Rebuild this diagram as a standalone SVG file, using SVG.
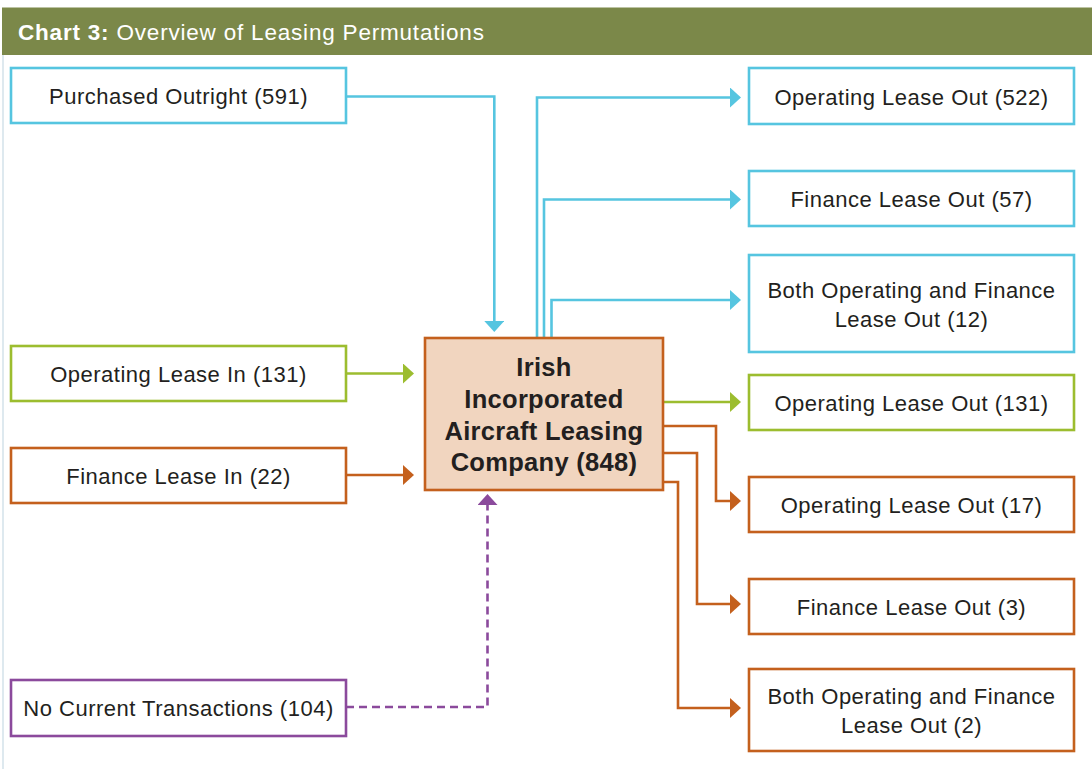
<svg xmlns="http://www.w3.org/2000/svg" width="1092" height="769" viewBox="0 0 1092 769">
<style>
text{font-family:"Liberation Sans",Arial,Helvetica,sans-serif;fill:#231f20;font-size:22px;text-anchor:middle;letter-spacing:0.5px}
.box{fill:#ffffff;stroke-width:2.6}
.cy{stroke:#56c5e0}
.gr{stroke:#9cbd2f}
.or{stroke:#c4601d}
.pu{stroke:#8b4a9c}
.c{fill:none;stroke-width:2.6}
.ttl{font-size:22.5px;fill:#ffffff;text-anchor:start;letter-spacing:0.8px}
.big{font-size:25.5px;font-weight:bold;letter-spacing:0.3px}
</style>
<defs>
<marker id="aCy" markerUnits="userSpaceOnUse" viewBox="0 0 11 20" markerWidth="11" markerHeight="20" refX="1" refY="10" orient="auto"><path d="M0,0 L11,10 L0,20 Z" fill="#56c5e0"/></marker>
<marker id="aGr" markerUnits="userSpaceOnUse" viewBox="0 0 11 20" markerWidth="11" markerHeight="20" refX="1" refY="10" orient="auto"><path d="M0,0 L11,10 L0,20 Z" fill="#9cbd2f"/></marker>
<marker id="aOr" markerUnits="userSpaceOnUse" viewBox="0 0 11 20" markerWidth="11" markerHeight="20" refX="1" refY="10" orient="auto"><path d="M0,0 L11,10 L0,20 Z" fill="#c4601d"/></marker>
<marker id="aPu" markerUnits="userSpaceOnUse" viewBox="0 0 11 20" markerWidth="11" markerHeight="20" refX="1" refY="10" orient="auto"><path d="M0,0 L11,10 L0,20 Z" fill="#8b4a9c"/></marker>
</defs>
<rect width="1092" height="769" fill="#ffffff"/>
<g id="header">
<rect x="2" y="7.5" width="1090" height="47.5" fill="#7b8849"/>
<line x1="3" y1="55" x2="3" y2="769" stroke="#d3e2ea" stroke-width="1.5"/>
<text x="18" y="39.5" class="ttl"><tspan font-weight="bold">Chart 3:</tspan> Overview of Leasing Permutations</text>
</g>
<g id="connectors">
<path class="c cy" d="M346,96.5 H494.3 V322" marker-end="url(#aCy)"/>
<path class="c cy" d="M537,338 V97.5 H731" marker-end="url(#aCy)"/>
<path class="c cy" d="M544,338 V199.5 H731" marker-end="url(#aCy)"/>
<path class="c cy" d="M551.5,338 V300 H731" marker-end="url(#aCy)"/>
<path class="c gr" d="M346,373.5 H404" marker-end="url(#aGr)"/>
<path class="c or" d="M346,475 H404" marker-end="url(#aOr)"/>
<path class="c gr" d="M663,402 H731" marker-end="url(#aGr)"/>
<path class="c or" d="M663,426 H716 V501 H731" marker-end="url(#aOr)"/>
<path class="c or" d="M663,453 H697 V604 H731" marker-end="url(#aOr)"/>
<path class="c or" d="M663,482 H678 V708 H731" marker-end="url(#aOr)"/>
<path class="c pu" d="M346,707 H487.5 V504" stroke-dasharray="8 5" marker-end="url(#aPu)"/>
</g>
<g id="purchased-outright">
<rect class="box cy" x="11" y="68" width="335" height="55"/>
<text x="178.5" y="104">Purchased Outright (591)</text>
</g>
<g id="operating-lease-in">
<rect class="box gr" x="11" y="346" width="335" height="55"/>
<text x="178.5" y="382">Operating Lease In (131)</text>
</g>
<g id="finance-lease-in">
<rect class="box or" x="11" y="448" width="335" height="55"/>
<text x="178.5" y="484">Finance Lease In (22)</text>
</g>
<g id="no-current-transactions">
<rect class="box pu" x="11" y="680" width="335" height="56"/>
<text x="178.5" y="716">No Current Transactions (104)</text>
</g>
<g id="center">
<rect x="425" y="338" width="238" height="152" fill="#f1d5bf" stroke="#c4601d" stroke-width="2.6"/>
<text class="big" x="544" y="376">Irish</text>
<text class="big" x="544" y="408">Incorporated</text>
<text class="big" x="544" y="439.5">Aircraft Leasing</text>
<text class="big" x="544" y="471">Company (848)</text>
</g>
<g id="op-lease-out-522">
<rect class="box cy" x="749" y="68" width="325" height="56"/>
<text x="911.5" y="104.5">Operating Lease Out (522)</text>
</g>
<g id="fin-lease-out-57">
<rect class="box cy" x="749" y="171" width="325" height="55"/>
<text x="911.5" y="206.5">Finance Lease Out (57)</text>
</g>
<g id="both-out-12">
<rect class="box cy" x="749" y="255" width="325" height="97"/>
<text x="911.5" y="297.5">Both Operating and Finance</text>
<text x="911.5" y="327">Lease Out (12)</text>
</g>
<g id="op-lease-out-131">
<rect class="box gr" x="749" y="375" width="325" height="55"/>
<text x="911.5" y="411">Operating Lease Out (131)</text>
</g>
<g id="op-lease-out-17">
<rect class="box or" x="749" y="477" width="325" height="55"/>
<text x="911.5" y="513">Operating Lease Out (17)</text>
</g>
<g id="fin-lease-out-3">
<rect class="box or" x="749" y="579" width="325" height="55"/>
<text x="911.5" y="615">Finance Lease Out (3)</text>
</g>
<g id="both-out-2">
<rect class="box or" x="749" y="669" width="325" height="82"/>
<text x="911.5" y="703.5">Both Operating and Finance</text>
<text x="911.5" y="732.5">Lease Out (2)</text>
</g>
</svg>
